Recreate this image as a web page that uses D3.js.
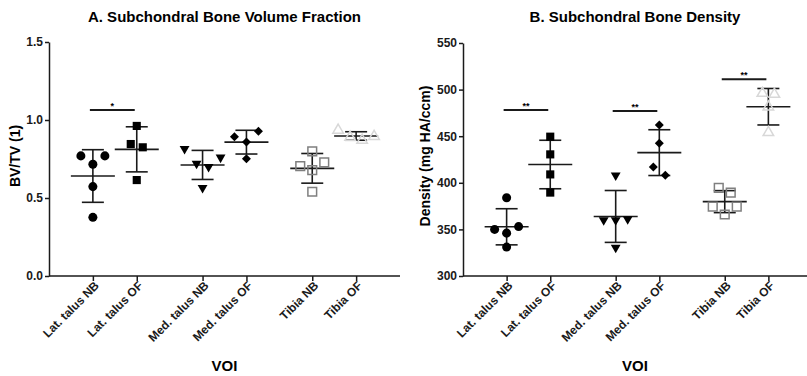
<!DOCTYPE html>
<html>
<head>
<meta charset="utf-8">
<script src="https://cdn.jsdelivr.net/npm/d3@7"></script>
<style>
  body { margin: 0; background: #fff; }
  svg { display: block; font-family: Arial, "Liberation Sans", sans-serif; }
  .axis path, .axis line { stroke: #1a1a1a; stroke-width: 1.5px; }
  .axis text { font-size: 12px; font-weight: bold; fill: #1a1a1a; }
</style>
</head>
<body>
<div id="chart"></div>
<script>
// categories + tick labels
const categories = ["Lat. talus NB", "Lat. talus OF", "Med. talus NB", "Med. talus OF", "Tibia NB", "Tibia OF"];
const bvtvTicks = [0, 0.5, 1.0, 1.5];
const densityTicks = [300, 350, 400, 450, 500, 550];

// A. BV/TV values per group
const bvtvLatNB = [0.77, 0.716, 0.77, 0.573, 0.376];
const bvtvLatOF = [0.962, 0.846, 0.825, 0.615];
const bvtvMedNB = [0.815, 0.72, 0.76, 0.70, 0.565];
const bvtvMedOF = [0.893, 0.928, 0.859, 0.752];
const bvtvTibNB = [0.705, 0.799, 0.728, 0.679, 0.54];
const bvtvTibOF = [0.89, 0.87, 0.935, 0.895];

// B. density values per group (mg HA/ccm)
const densLatNB = [384, 350, 346, 353, 331];
const densLatOF = [449.5, 430.5, 409, 389.5];
const densMedNB = [408, 360, 360, 361, 330.5];
const densMedOF = [462, 442.5, 417, 408];
const densTibNB = [394.5, 389.5, 374.5, 374.5, 366];
const densTibOF = [495, 496, 481.5, 454];

// significance brackets: [from, to, height, label]
const sigA = [["Lat. talus NB", "Lat. talus OF", 1.064, "*"]];
const sigB = [
  ["Lat. talus NB", "Lat. talus OF", 478, "**"],
  ["Med. talus NB", "Med. talus OF", 477, "**"],
  ["Tibia NB", "Tibia OF", 511, "**"]
];

const W = 807, H = 376;
const svg = d3.select("#chart").append("svg")
  .attr("width", W).attr("height", H);

// marker styles per category
const markers = [
  {type: d3.symbolCircle, size: 64, fill: "#000", stroke: "none", rot: 0},
  {type: d3.symbolSquare, size: 66, fill: "#000", stroke: "none", rot: 0},
  {type: d3.symbolTriangle, size: 42, fill: "#000", stroke: "none", rot: 180},
  {type: d3.symbolSquare, size: 40, fill: "#000", stroke: "none", rot: 45},
  {type: d3.symbolSquare, size: 76, fill: "none", stroke: "#7f7f7f", rot: 0},
  {type: d3.symbolTriangle, size: 48, fill: "none", stroke: "#d8d8d8", rot: 0}
];
// slot positions (groups of two with a gap)
const slots = [0, 1, 2.5, 3.5, 5, 6];

// GraphPad-like horizontal spreading of points that overlap
function spread(vals, y) {
  const pts = vals.map(v => ({v, py: y(v)})).sort((a, b) => a.v - b.v);
  const rows = [];
  pts.forEach(p => {
    const last = rows.length ? rows[rows.length - 1] : null;
    if (last && Math.abs(last[last.length - 1].py - p.py) < 8.6) last.push(p);
    else rows.push([p]);
  });
  const out = [];
  rows.forEach(r => {
    const n = r.length;
    const order = [];
    if (n % 2) { order.push(0); for (let k = 1; order.length < n; k++) { order.push(-k); if (order.length < n) order.push(k); } }
    else { for (let k = 0.5; order.length < n; k++) { order.push(k); order.push(-k); } }
    r.forEach((p, i) => out.push({v: p.v, py: p.py, dx: order[i] * 12}));
  });
  return out;
}

function panel(opt) {
  const x = d3.scaleLinear().domain([-1, 7]).range([opt.left, opt.right]);
  const cx = c => x(slots[categories.indexOf(c)]);
  const y = d3.scaleLinear().domain(opt.domain).range([276, opt.top]);
  const g = svg.append("g");

  // title
  g.append("text")
    .attr("x", (opt.left + Math.min(opt.right, W)) / 2)
    .attr("y", 22)
    .attr("text-anchor", "middle")
    .style("font-size", "15px").style("font-weight", "bold")
    .text(opt.title);

  // axes
  g.append("g").attr("class", "axis")
    .attr("transform", "translate(" + opt.left + ",0)")
    .call(d3.axisLeft(y).tickValues(opt.ticks).tickFormat(opt.fmt).tickSize(4).tickSizeOuter(0).tickPadding(2));
  const xa = g.append("g").attr("class", "axis")
    .attr("transform", "translate(0,276)")
    .call(d3.axisBottom(x).tickValues(slots).tickFormat((d, i) => categories[i]).tickSize(5).tickSizeOuter(0));
  xa.select(".domain").attr("d", "M" + opt.left + ",0H" + opt.right);
  xa.selectAll("text")
    .attr("transform", "translate(0,4) rotate(-45)")
    .attr("x", 0).attr("y", 9).attr("dy", 0)
    .style("text-anchor", "end")
    .style("font-size", "12px");

  // axis titles
  g.append("text")
    .attr("transform", "translate(" + opt.ylabX + ",156) rotate(-90)")
    .attr("text-anchor", "middle")
    .style("font-size", "14px").style("font-weight", "bold")
    .text(opt.ylab);
  g.append("text")
    .attr("x", (opt.left + Math.min(opt.right, W)) / 2)
    .attr("y", 371)
    .attr("text-anchor", "middle")
    .style("font-size", "15px").style("font-weight", "bold")
    .text("VOI");

  // groups: mean line + SD error bars + points
  opt.groups.forEach((vals, i) => {
    const c = cx(categories[i]);
    const m = d3.mean(vals), sd = d3.deviation(vals);
    const bars = g.append("g").attr("stroke", "#1a1a1a").attr("stroke-width", 1.6);
    bars.append("line").attr("x1", c).attr("x2", c).attr("y1", y(m - sd)).attr("y2", y(m + sd));
    bars.append("line").attr("x1", c - 22).attr("x2", c + 22).attr("y1", y(m)).attr("y2", y(m));
    [m - sd, m + sd].forEach(v => bars.append("line")
      .attr("x1", c - 11).attr("x2", c + 11).attr("y1", y(v)).attr("y2", y(v)));

    const mk = markers[i];
    const sym = d3.symbol().type(mk.type).size(mk.size);
    g.selectAll(null).data(spread(vals, y)).enter().append("path")
      .attr("d", sym)
      .attr("transform", d => "translate(" + (c + d.dx) + "," + d.py + ") rotate(" + mk.rot + ")")
      .attr("fill", mk.fill)
      .attr("stroke", mk.stroke)
      .attr("stroke-width", 1.5);
  });

  // significance bars
  opt.sig.forEach(s => {
    const x1 = cx(s[0]) - 3, x2 = cx(s[1]) - 2, yy = y(s[2]);
    g.append("line").attr("x1", x1).attr("x2", x2).attr("y1", yy).attr("y2", yy)
      .attr("stroke", "#1a1a1a").attr("stroke-width", 2);
    g.append("text").attr("x", (x1 + x2) / 2).attr("y", yy - 1)
      .attr("text-anchor", "middle")
      .style("font-size", "9px").style("font-weight", "bold")
      .text(s[3]);
  });
}

panel({
  title: "A. Subchondral Bone Volume Fraction",
  ylab: "BV/TV (1)", ylabX: 20,
  left: 49, right: 400, top: 42,
  domain: [0, 1.5], ticks: bvtvTicks, fmt: d3.format(".1f"),
  groups: [bvtvLatNB, bvtvLatOF, bvtvMedNB, bvtvMedOF, bvtvTibNB, bvtvTibOF],
  sig: sigA
});

panel({
  title: "B. Subchondral Bone Density",
  ylab: "Density (mg HA/ccm)", ylabX: 430,
  left: 463, right: 812, top: 43,
  domain: [300, 550], ticks: densityTicks, fmt: d3.format("d"),
  groups: [densLatNB, densLatOF, densMedNB, densMedOF, densTibNB, densTibOF],
  sig: sigB
});
</script>
</body>
</html>
